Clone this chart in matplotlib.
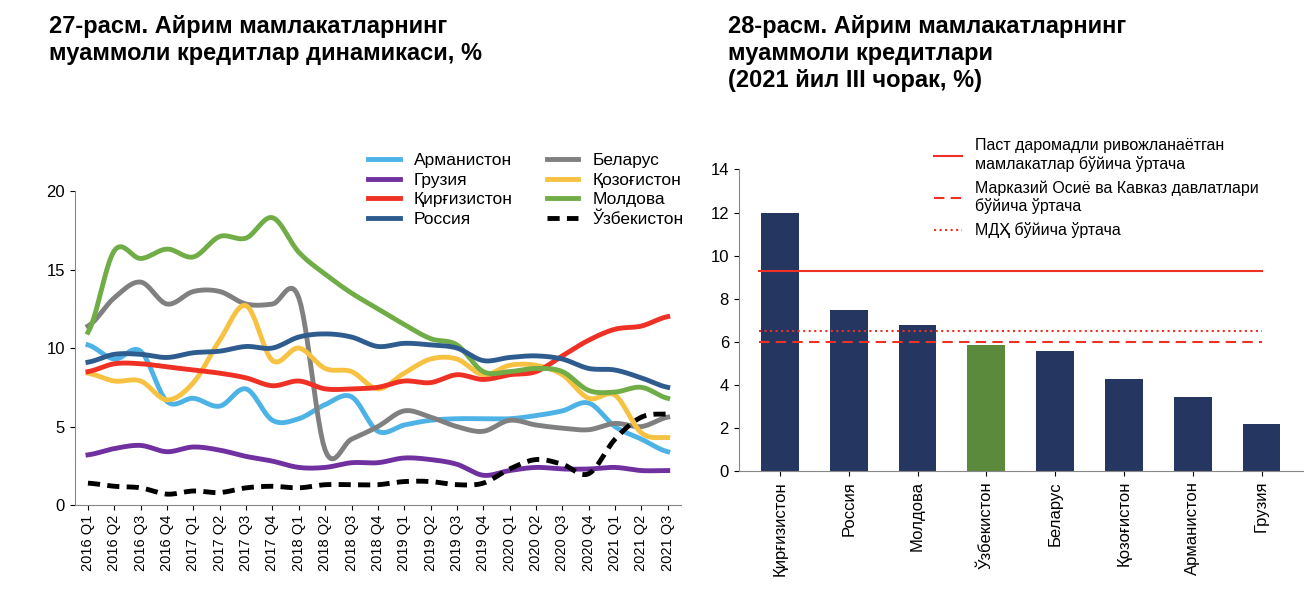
import numpy as np
import matplotlib.pyplot as plt

quarters = [f"{y} Q{q}" for y in range(2016, 2022) for q in range(1, 5)][:23]

armenia = [10.2, 9.3, 9.8, 6.6, 6.8, 6.3, 7.4, 5.4, 5.5, 6.4, 6.9, 4.7, 5.1, 5.4, 5.5, 5.5, 5.5, 5.7, 6.0, 6.5, 5.0, 4.2, 3.4]
belarus = [11.4, 13.2, 14.2, 12.8, 13.6, 13.6, 12.8, 12.8, 13.2, 3.5, 4.2, 5.0, 6.0, 5.6, 5.0, 4.7, 5.4, 5.1, 4.9, 4.8, 5.2, 5.0, 5.6]
georgia = [3.2, 3.6, 3.8, 3.4, 3.7, 3.5, 3.1, 2.8, 2.4, 2.4, 2.7, 2.7, 3.0, 2.9, 2.6, 1.9, 2.2, 2.4, 2.3, 2.3, 2.4, 2.2, 2.2]
kazakh = [8.4, 7.9, 7.9, 6.7, 7.8, 10.5, 12.7, 9.2, 10.0, 8.7, 8.5, 7.4, 8.4, 9.3, 9.3, 8.3, 8.9, 8.9, 8.3, 6.8, 7.0, 4.6, 4.3]
kyrgyz = [8.5, 9.0, 9.0, 8.8, 8.6, 8.4, 8.1, 7.6, 7.9, 7.4, 7.4, 7.5, 7.9, 7.8, 8.3, 8.0, 8.3, 8.5, 9.5, 10.5, 11.2, 11.4, 12.0]
moldova = [11.0, 16.2, 15.7, 16.3, 15.8, 17.1, 17.0, 18.3, 16.1, 14.7, 13.5, 12.5, 11.5, 10.6, 10.2, 8.5, 8.5, 8.7, 8.5, 7.3, 7.2, 7.5, 6.8]
russia = [9.1, 9.6, 9.6, 9.4, 9.7, 9.8, 10.1, 10.0, 10.7, 10.9, 10.7, 10.1, 10.3, 10.2, 10.0, 9.2, 9.4, 9.5, 9.3, 8.7, 8.6, 8.1, 7.5]
uzbek = [1.4, 1.2, 1.1, 0.7, 0.9, 0.8, 1.1, 1.2, 1.1, 1.3, 1.3, 1.3, 1.5, 1.5, 1.3, 1.4, 2.3, 2.9, 2.6, 2.0, 4.2, 5.6, 5.8]

bar_countries = ["Қирғизистон", "Россия", "Молдова", "Ўзбекистон", "Беларус", "Қозоғистон", "Арманистон", "Грузия"]
bar_values = [12.0, 7.5, 6.8, 5.85, 5.6, 4.3, 3.45, 2.2]
avg_low_income = 9.3
avg_cca = 6.0
avg_cis = 6.5

plt.rcParams['font.family'] = ['Liberation Sans', 'DejaVu Sans']


def smooth(y, n=12):
    # catmull-rom through the points, like Excel's smoothed lines
    y = np.asarray(y, float)
    p = np.concatenate([[y[0]], y, [y[-1]]])
    xs, ys = [], []
    t = np.linspace(0, 1, n, endpoint=False)
    for i in range(len(y) - 1):
        p0, p1, p2, p3 = p[i], p[i + 1], p[i + 2], p[i + 3]
        v = 0.5 * (2 * p1 + (-p0 + p2) * t + (2 * p0 - 5 * p1 + 4 * p2 - p3) * t ** 2
                   + (-p0 + 3 * p1 - 3 * p2 + p3) * t ** 3)
        xs.extend(i + t)
        ys.extend(v)
    xs.append(len(y) - 1)
    ys.append(y[-1])
    return np.array(xs), np.array(ys)


fig = plt.figure(figsize=(13.12, 6.16), dpi=100)
fig.text(0.037, 0.975, "27-расм. Айрим мамлакатларнинг\nмуаммоли кредитлар динамикаси, %",
         fontsize=17, fontweight='bold', va='top', linespacing=1.2)
fig.text(0.555, 0.975, "28-расм. Айрим мамлакатларнинг\nмуаммоли кредитлари\n(2021 йил III чорак, %)",
         fontsize=17, fontweight='bold', va='top', linespacing=1.2)

ax = fig.add_axes([0.057, 0.18, 0.462, 0.51])
series = [("Арманистон", armenia, '#4DB3E6', '-'), ("Беларус", belarus, '#808080', '-'),
          ("Грузия", georgia, '#7030A0', '-'), ("Қозоғистон", kazakh, '#F7C242', '-'),
          ("Қирғизистон", kyrgyz, '#EE3124', '-'), ("Молдова", moldova, '#70AD47', '-'),
          ("Россия", russia, '#2F5C8F', '-'), ("Ўзбекистон", uzbek, 'black', '--')]
handles = []
for name, vals, col, ls in series:
    xs, ys = smooth(vals)
    h, = ax.plot(xs, ys, color=col, lw=3.5, ls=ls, label=name, dashes=(2.5, 1.5) if ls == '--' else (None, None))
    handles.append(h)
ax.set_ylim(0, 20)
ax.set_yticks([0, 5, 10, 15, 20])
ax.set_xlim(-0.5, 22.5)
ax.set_xticks(range(23))
ax.set_xticklabels(quarters, rotation=90, fontsize=10.5)
ax.tick_params(axis='y', labelsize=12)
for s in ['top', 'right']:
    ax.spines[s].set_visible(False)
ax.spines['left'].set_color('#888888')
ax.spines['bottom'].set_color('#888888')
order = [0, 2, 4, 6, 1, 3, 5, 7]
ax.legend([handles[i] for i in order], [handles[i].get_label() for i in order],
          ncol=2, loc='upper right', bbox_to_anchor=(1.03, 1.17), frameon=False,
          fontsize=12.5, handlelength=1.8, columnspacing=2.0, labelspacing=0.25)

ax2 = fig.add_axes([0.563, 0.235, 0.43, 0.49])
x = np.arange(len(bar_values))
colors = ['#253761'] * len(bar_values)
colors[3] = '#5B8A3C'
ax2.bar(x, bar_values, width=0.55, color=colors)
ax2.plot([-0.3, 7], [avg_low_income] * 2, color='#EE3124', lw=1.5, label="Паст даромадли ривожланаётган\nмамлакатлар бўйича ўртача")
ax2.plot([-0.3, 7], [avg_cca] * 2, color='#EE3124', lw=1.5, ls=(0, (5, 3)), label="Марказий Осиё ва Кавказ давлатлари\nбўйича ўртача")
ax2.plot([-0.3, 7], [avg_cis] * 2, color='#EE3124', lw=1.5, ls=':', label="МДҲ бўйича ўртача")
ax2.set_ylim(0, 14)
ax2.set_yticks(range(0, 15, 2))
ax2.set_xlim(-0.6, 7.6)
ax2.set_xticks(x)
ax2.set_xticklabels(bar_countries, rotation=90, fontsize=12)
ax2.tick_params(axis='y', labelsize=12)
for s in ['top', 'right']:
    ax2.spines[s].set_visible(False)
ax2.spines['left'].set_color('#888888')
ax2.spines['bottom'].set_color('#888888')
ax2.legend(loc='upper left', bbox_to_anchor=(0.32, 1.15), frameon=False, fontsize=11.5,
           handlelength=1.8, labelspacing=0.5)

plt.savefig('out.png')
